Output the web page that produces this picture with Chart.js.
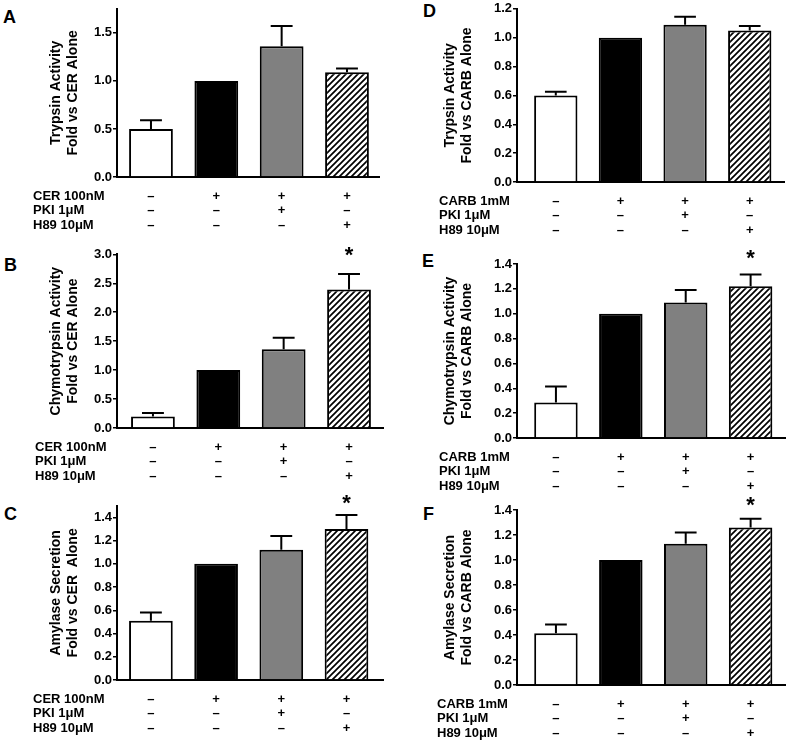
<!DOCTYPE html>
<html>
<head>
<meta charset="utf-8">
<script src="https://cdn.jsdelivr.net/npm/chart.js@4.4.0/dist/chart.umd.min.js"></script>
<style>
  html, body { margin: 0; padding: 0; background: #fff; }
  body { width: 788px; height: 744px; position: relative; overflow: hidden; }
  canvas { position: absolute; }
  .tag { position: absolute; font: bold 18px "Liberation Sans", Arial, sans-serif; line-height: 18px; color: #000; }
</style>
</head>
<body>
<div class="tag" style="left:3px;top:8px">A</div>
<div class="tag" style="left:4px;top:256px">B</div>
<div class="tag" style="left:4px;top:505px">C</div>
<div class="tag" style="left:423px;top:2px">D</div>
<div class="tag" style="left:422px;top:252px">E</div>
<div class="tag" style="left:423px;top:505px">F</div>
<canvas id="chartA"></canvas>
<canvas id="chartB"></canvas>
<canvas id="chartC"></canvas>
<canvas id="chartD"></canvas>
<canvas id="chartE"></canvas>
<canvas id="chartF"></canvas>
<script>
// Treatment table under each graph
const rowsCER = ['CER 100nM', 'PKI 1\u03bcM', 'H89 10\u03bcM'];
const rowsCARB = ['CARB 1mM', 'PKI 1\u03bcM', 'H89 10\u03bcM'];
const signs = [['\u2013', '\u2013', '\u2013'], ['+', '\u2013', '\u2013'], ['+', '+', '\u2013'], ['+', '\u2013', '+']];

// Fold vs agonist alone: mean and SEM per group
const trypsinCER = [0.50, 1.00, 1.36, 1.09];
const trypsinCERSem = [0.09, 0, 0.21, 0.04];
const chymoCER = [0.20, 1.00, 1.36, 2.39];
const chymoCERSem = [0.06, 0, 0.20, 0.27];
const amylaseCER = [0.51, 1.00, 1.12, 1.30];
const amylaseCERSem = [0.07, 0, 0.12, 0.12];

const trypsinCARB = [0.60, 1.00, 1.09, 1.05];
const trypsinCARBSem = [0.025, 0, 0.055, 0.03];
const chymoCARB = [0.285, 1.00, 1.09, 1.22];
const chymoCARBSem = [0.13, 0, 0.10, 0.095];
const amylaseCARB = [0.415, 1.00, 1.13, 1.26];
const amylaseCARBSem = [0.07, 0, 0.09, 0.07];

// significance marks
const starsTrypsinCER = ['', '', '', ''];
const starsChymoCER = ['', '', '', '*'];
const starsAmylaseCER = ['', '', '', '*'];
const starsTrypsinCARB = ['', '', '', ''];
const starsChymoCARB = ['', '', '', '*'];
const starsAmylaseCARB = ['', '', '', '*'];

// y axis ticks
const ticksTrypsinCER = { max: 1.75, step: 0.5 };
const ticksChymoCER = { max: 3.0, step: 0.5 };
const ticksAmylaseCER = { max: 1.5, step: 0.2 };
const ticksCARB = { max: 1.4, step: 0.2 };
const ticksTrypsinCARB = { max: 1.2, step: 0.2 };

const FONT = '"Liberation Sans", Arial, sans-serif';
const LINE = 14.7;
const PAD = 19 - LINE / 2;
const XAXIS_H = 58;

function hatch() {
  const c = document.createElement('canvas');
  c.width = 6; c.height = 6;
  const g = c.getContext('2d');
  g.fillStyle = '#fff';
  g.fillRect(0, 0, 6, 6);
  g.strokeStyle = '#000';
  g.lineWidth = 1.7;
  g.beginPath();
  g.moveTo(-1, 7); g.lineTo(7, -1);
  g.moveTo(-1, 1); g.lineTo(1, -1);
  g.moveTo(5, 7); g.lineTo(7, 5);
  g.stroke();
  return g.createPattern(c, 'repeat');
}

// error bars (upper only) and asterisks
const errorBars = {
  id: 'errorBars',
  afterDatasetsDraw(chart, args, opts) {
    const { ctx } = chart;
    const y = chart.scales.y;
    const ds = chart.data.datasets[0];
    const meta = chart.getDatasetMeta(0);
    ctx.save();
    ctx.strokeStyle = '#000';
    ctx.fillStyle = '#000';
    ctx.lineWidth = 2;
    meta.data.forEach((bar, i) => {
      const mean = ds.data[i].y;
      const top = y.getPixelForValue(mean + opts.sem[i]);
      if (opts.sem[i] > 0) {
        const half = bar.width / 4;
        ctx.beginPath();
        ctx.moveTo(bar.x, bar.y);
        ctx.lineTo(bar.x, top);
        ctx.moveTo(bar.x - half, top);
        ctx.lineTo(bar.x + half, top);
        ctx.stroke();
      }
      if (opts.stars[i]) {
        ctx.font = 'bold 22px ' + FONT;
        ctx.textAlign = 'center';
        ctx.textBaseline = 'alphabetic';
        ctx.fillText(opts.stars[i], bar.x, top - opts.gap);
      }
    });
    ctx.restore();
  }
};

// names of the treatment rows, lined up with the x tick lines
const rowLabels = {
  id: 'rowLabels',
  afterDraw(chart, args, opts) {
    const { ctx, chartArea } = chart;
    ctx.save();
    ctx.font = 'bold 13px ' + FONT;
    ctx.fillStyle = '#000';
    ctx.textAlign = 'left';
    ctx.textBaseline = 'middle';
    opts.rows.forEach((r, i) => {
      ctx.fillText(r, opts.x, chartArea.bottom + PAD + LINE / 2 + i * LINE);
    });
    ctx.restore();
  }
};

function panel(id, p) {
  const el = document.getElementById(id);
  const top = p.canvasTop;
  const h = Math.round(p.bottom + XAXIS_H - top);
  el.width = 394; el.height = h;
  el.style.left = p.left + 'px';
  el.style.top = top + 'px';
  const fills = ['#ffffff', '#000000', '#808080', hatch()];
  return new Chart(el, {
    type: 'bar',
    data: {
      datasets: [{
        data: p.mean.map((v, i) => ({ x: i, y: v })),
        backgroundColor: fills,
        borderColor: '#000',
        borderWidth: 2,
        borderSkipped: 'start',
        barPercentage: 0.67,
        categoryPercentage: 1
      }]
    },
    options: {
      responsive: false,
      animation: false,
      events: [],
      layout: { padding: { top: p.top - top, right: p.left + 394 - p.right, bottom: 0, left: 0 } },
      plugins: {
        legend: { display: false },
        tooltip: { enabled: false },
        errorBars: { sem: p.sem, stars: p.stars, gap: p.starGap || 0 },
        rowLabels: { rows: p.rows, x: p.rowX }
      },
      scales: {
        x: {
          type: 'linear',
          min: p.xmin,
          max: p.xmax,
          offset: false,
          grid: { display: false, drawTicks: false, offset: false },
          border: { display: true, color: '#000', width: 2 },
          ticks: {
            stepSize: 1,
            includeBounds: false,
            autoSkip: false,
            maxRotation: 0,
            padding: PAD,
            color: '#000',
            font: { family: FONT, size: 13, weight: 'bold', lineHeight: LINE / 13 },
            callback: v => signs[v]
          },
          afterFit: s => { s.height = XAXIS_H; }
        },
        y: {
          min: 0,
          max: p.ticks.max,
          grid: { display: true, drawOnChartArea: false, drawTicks: true, tickLength: 4, color: '#000', lineWidth: 1.5 },
          border: { display: true, color: '#000', width: 2 },
          ticks: {
            stepSize: p.ticks.step,
            includeBounds: false,
            padding: 1,
            color: '#000',
            font: { family: FONT, size: 13, weight: 'bold' },
            callback: v => v.toFixed(1)
          },
          title: {
            display: true,
            text: p.title,
            color: '#000',
            font: { family: FONT, size: 14, weight: 'bold', lineHeight: 1.2 },
            padding: { top: 48, bottom: 0 }
          },
          afterFit: s => { s.width = p.axisX - p.left; }
        }
      }
    },
    plugins: [errorBars, rowLabels]
  });
}

panel('chartA', {
  left: 0, canvasTop: 0, axisX: 117, top: 4, right: 379, bottom: 177,
  xmin: -0.52, xmax: 3.49, ticks: ticksTrypsinCER,
  mean: trypsinCER, sem: trypsinCERSem, stars: starsTrypsinCER,
  title: ['Trypsin Activity', 'Fold vs CER Alone'], rows: rowsCER, rowX: 33
});
panel('chartB', {
  left: 0, canvasTop: 238, axisX: 117, top: 254.3, right: 383, bottom: 428.3,
  xmin: -0.55, xmax: 3.52, ticks: ticksChymoCER,
  mean: chymoCER, sem: chymoCERSem, stars: starsChymoCER, starGap: 12,
  title: ['Chymotrypsin Activity', 'Fold vs CER Alone'], rows: rowsCER, rowX: 35
});
panel('chartC', {
  left: 0, canvasTop: 490, axisX: 117, top: 505.7, right: 383, bottom: 679.7,
  xmin: -0.52, xmax: 3.56, ticks: ticksAmylaseCER,
  mean: amylaseCER, sem: amylaseCERSem, stars: starsAmylaseCER, starGap: 5,
  title: ['Amylase Secretion', 'Fold vs CER  Alone'], rows: rowsCER, rowX: 33
});
panel('chartD', {
  left: 394, canvasTop: 0, axisX: 517, top: 8.5, right: 784, bottom: 181.7,
  xmin: -0.6, xmax: 3.53, ticks: ticksTrypsinCARB,
  mean: trypsinCARB, sem: trypsinCARBSem, stars: starsTrypsinCARB,
  title: ['Trypsin Activity', 'Fold vs CARB Alone'], rows: rowsCARB, rowX: 45
});
panel('chartE', {
  left: 394, canvasTop: 244, axisX: 517, top: 264, right: 785, bottom: 437.7,
  xmin: -0.6, xmax: 3.53, ticks: ticksCARB,
  mean: chymoCARB, sem: chymoCARBSem, stars: starsChymoCARB, starGap: 10,
  title: ['Chymotrypsin Activity', 'Fold vs CARB Alone'], rows: rowsCARB, rowX: 45
});
panel('chartF', {
  left: 394, canvasTop: 494, axisX: 517, top: 510, right: 785, bottom: 684.7,
  xmin: -0.6, xmax: 3.53, ticks: ticksCARB,
  mean: amylaseCARB, sem: amylaseCARBSem, stars: starsAmylaseCARB, starGap: 7,
  title: ['Amylase Secretion', 'Fold vs CARB Alone'], rows: rowsCARB, rowX: 43
});
</script>
</body>
</html>
